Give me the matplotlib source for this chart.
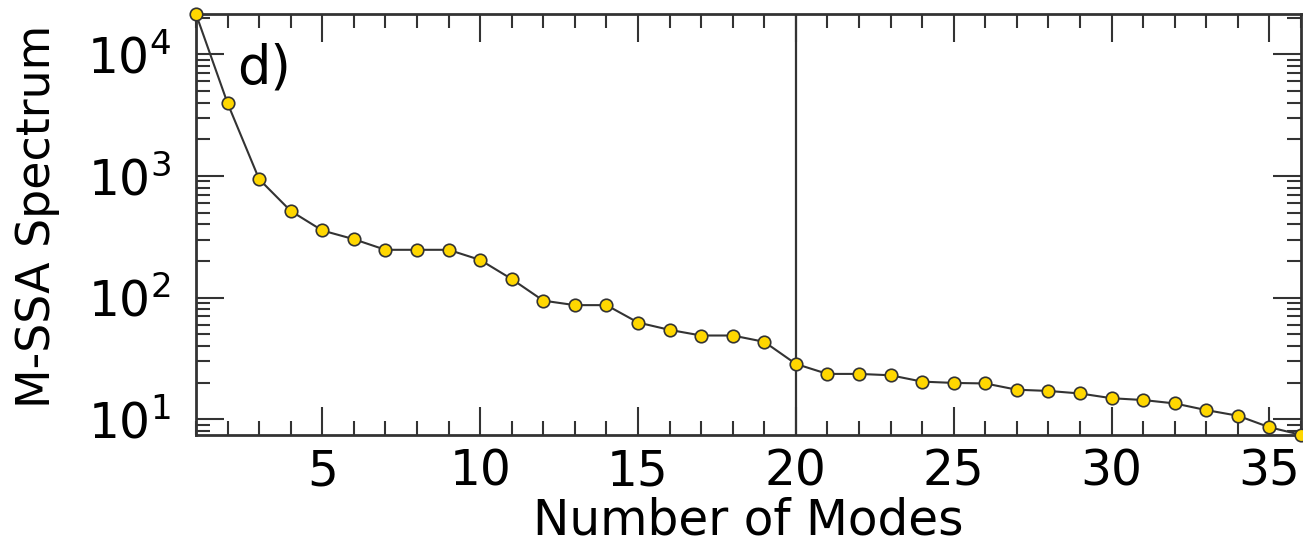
import matplotlib
matplotlib.use("Agg")
import matplotlib.pyplot as plt
from matplotlib.ticker import LogLocator, MultipleLocator, NullFormatter

modes = list(range(1, 37))
spectrum = [21400, 3960, 940, 515, 356, 302, 247, 247, 247, 204,
            142, 94.4, 86.7, 86.7, 62.4, 54.3, 48.8, 48.8, 43.3, 28.5,
            23.6, 23.6, 23.0, 20.4, 19.9, 19.7, 17.5, 17.1, 16.3, 14.9,
            14.4, 13.5, 11.9, 10.7, 8.6, 7.45]
xticks = [5, 10, 15, 20, 25, 30, 35]
cutoff = 20
panel_label = "d)"

fig = plt.figure(figsize=(13.03, 5.46), dpi=100)
ax = fig.add_axes([0.1504, 0.2033, 0.8481, 0.7711])

ax.axvline(cutoff, color="#333333", lw=1.6, zorder=1)
ax.plot(modes, spectrum, color="#333333", lw=1.5, marker="o", ms=9,
        mfc="#FFD700", mec="#333333", mew=1.2, zorder=3, clip_on=False)

ax.set_yscale("log")
ax.set_xlim(1, 36)
ax.set_ylim(7.43, 21400)
ax.set_xticks(xticks)
ax.xaxis.set_minor_locator(MultipleLocator(1))
ax.yaxis.set_major_locator(LogLocator(base=10, numticks=10))
ax.yaxis.set_minor_locator(LogLocator(base=10, subs=range(2, 10), numticks=20))
ax.yaxis.set_minor_formatter(NullFormatter())

ax.tick_params(which="both", direction="in", top=True, right=True,
               color="#333333", width=1.5, labelsize=35)
ax.tick_params(axis="x", which="both", pad=9)
ax.tick_params(axis="y", which="both", pad=18)
ax.tick_params(which="major", length=20)
ax.tick_params(which="minor", length=10)
for s in ax.spines.values():
    s.set_linewidth(2)
    s.set_color("#333333")

ax.set_xlabel("Number of Modes", fontsize=35, labelpad=1)
ax.set_ylabel("M-SSA Spectrum", fontsize=33, labelpad=19)
ax.yaxis.label.set_y(0.52)
ax.text(0.037, 0.87, panel_label, transform=ax.transAxes, fontsize=38,
        va="center", ha="left")

fig.savefig("out.png", dpi=100)
